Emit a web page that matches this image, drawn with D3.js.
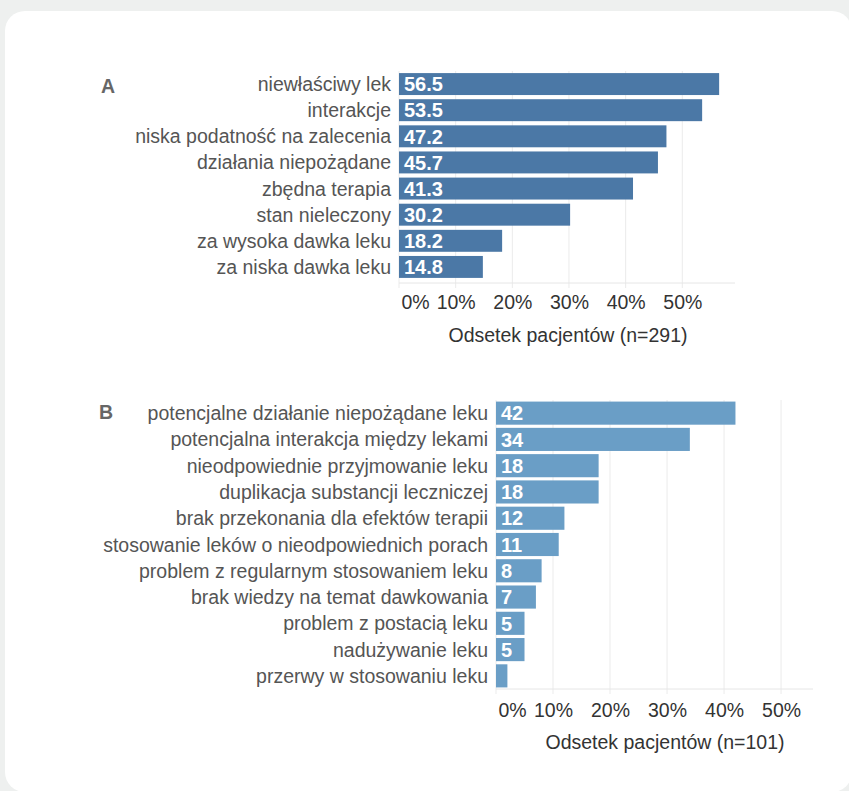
<!DOCTYPE html>
<html><head><meta charset="utf-8">
<script src="https://cdn.jsdelivr.net/npm/d3@7"></script>
<style>
body{margin:0;background:#eef0ef;}
svg{display:block}
text{font-family:"Liberation Sans",Arial,Helvetica,sans-serif;}
</style>
</head><body>
<svg id="c" width="849" height="791"></svg>
<script>
const catsA = ["niewłaściwy lek","interakcje","niska podatność na zalecenia","działania niepożądane","zbędna terapia","stan nieleczony","za wysoka dawka leku","za niska dawka leku"];
const valsA = [56.5,53.5,47.2,45.7,41.3,30.2,18.2,14.8];
const labelsA = ["56.5","53.5","47.2","45.7","41.3","30.2","18.2","14.8"];

const catsB = ["potencjalne działanie niepożądane leku","potencjalna interakcja między lekami","nieodpowiednie przyjmowanie leku","duplikacja substancji leczniczej","brak przekonania dla efektów terapii","stosowanie leków o nieodpowiednich porach","problem z regularnym stosowaniem leku","brak wiedzy na temat dawkowania","problem z postacią leku","nadużywanie leku","przerwy w stosowaniu leku"];
const valsB = [42,34,18,18,12,11,8,7,5,5,2];
const labelsB = ["42","34","18","18","12","11","8","7","5","5",""];

const tickVals = [0,10,20,30,40,50];
const tickLabels = ["0%","10%","20%","30%","40%","50%"];
const titleA = "Odsetek pacjentów (n=291)";
const titleB = "Odsetek pacjentów (n=101)";

const svg = d3.select("#c");
svg.append("rect").attr("x",5).attr("y",11).attr("width",847).attr("height",781)
  .attr("rx",20).attr("fill","#ffffff");

function panel(o){
  const x = d3.scaleLinear().domain([0,o.dmax]).range([o.x0,o.x1]);
  const y = d3.scaleBand().domain(o.cats).range([o.y0,o.y1]).paddingInner(o.pad).paddingOuter(o.pad/2);
  const g = svg.append("g");
  g.selectAll("line.grid").data(tickVals).join("line")
    .attr("x1",d=>x(d)).attr("x2",d=>x(d)).attr("y1",o.y0).attr("y2",o.axisY+5)
    .attr("stroke","#ebebeb").attr("stroke-width",1);
  g.append("line").attr("x1",o.x0).attr("x2",o.x1).attr("y1",o.axisY).attr("y2",o.axisY)
    .attr("stroke","#e6e6e6").attr("stroke-width",1);
  g.selectAll("rect.bar").data(o.vals).join("rect")
    .attr("x",x(0)).attr("y",(d,i)=>y(o.cats[i]))
    .attr("width",d=>x(d)-x(0)).attr("height",y.bandwidth())
    .attr("fill",o.color);
  g.selectAll("text.val").data(o.vals).join("text")
    .attr("x",x(0)+5).attr("y",(d,i)=>y(o.cats[i])+y.bandwidth()/2).attr("dy","0.36em")
    .attr("fill","#ffffff").attr("font-weight","bold").attr("font-size",20)
    .text((d,i)=>o.labels[i]);
  g.selectAll("text.cat").data(o.cats).join("text")
    .attr("x",o.labelX).attr("y",d=>y(d)+y.bandwidth()/2).attr("dy","0.36em")
    .attr("text-anchor","end").attr("fill","#555555").attr("font-size",19.5)
    .text(d=>d);
  const ax = d3.axisBottom(x).tickValues(tickVals).tickFormat((d,i)=>tickLabels[i]).tickSize(0).tickPadding(0);
  const ag = g.append("g").attr("transform",`translate(0,${o.tickY})`).call(ax);
  ag.select(".domain").remove();
  ag.selectAll("text").attr("font-size",19.5).attr("fill","#333333")
    .attr("font-family","Liberation Sans, Arial, sans-serif")
    .attr("dy","0.36em").attr("y",0)
    .attr("text-anchor",d=>d===0?"start":"middle")
    .attr("dx",d=>d===0?2:0);
  g.append("text").attr("x",o.titleX).attr("y",o.titleY).attr("dy","0.36em")
    .attr("text-anchor","middle").attr("fill","#333333").attr("font-size",19.5).text(o.title);
  g.append("text").attr("x",o.letterX).attr("y",o.letterY).attr("dy","0.36em")
    .attr("fill","#666666").attr("font-weight","bold").attr("font-size",19.5).text(o.letter);
}

panel({cats:catsA, vals:valsA, labels:labelsA, dmax:59.3, x0:399, x1:735, y0:71, y1:280, pad:0.16,
  axisY:283, tickY:302, titleX:568, titleY:335, labelX:391, color:"#4b78a6",
  title:titleA, letter:"A", letterX:101, letterY:86});
panel({cats:catsB, vals:valsB, labels:labelsB, dmax:55.6, x0:496, x1:813, y0:400, y1:689, pad:0.12,
  axisY:689, tickY:710, titleX:665, titleY:742, labelX:488, color:"#6a9ec6",
  title:titleB, letter:"B", letterX:99, letterY:412});
</script>
</body></html>
